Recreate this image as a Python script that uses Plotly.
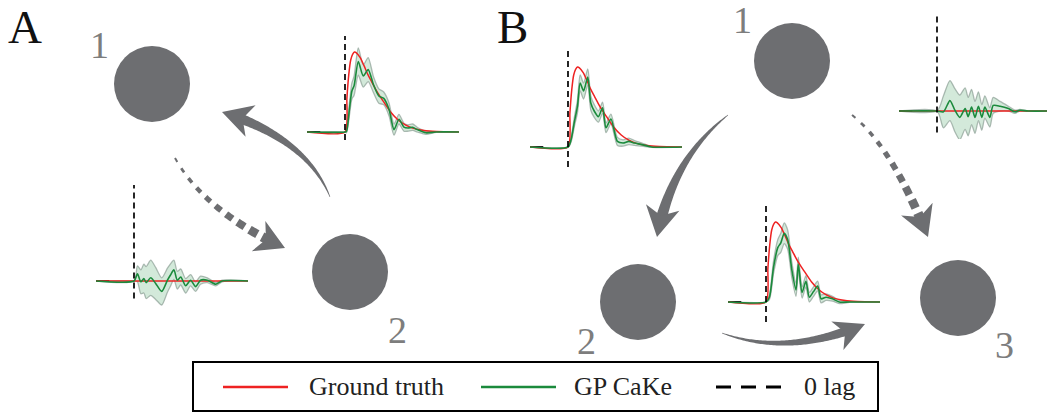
import numpy as np
import plotly.graph_objects as go

W, H = 1047, 414

# ------------------------------------------------------------------ data
# ground-truth causal kernel (normalised amplitude vs. lag)
truth_lag = [-1, 0, 0.05, 0.1, 0.15, 0.2, 0.25, 0.3, 0.4, 0.5, 0.6, 0.7, 0.8, 0.9, 1.0,
             1.2, 1.4, 1.6, 1.8, 2.0, 2.3, 2.6, 3.0]
truth_kernel = [0, 0, 0.42, 0.72, 0.9, 0.97, 1.0, 0.99, 0.93, 0.83, 0.72, 0.63, 0.54, 0.46, 0.39,
                0.25, 0.15, 0.085, 0.045, 0.025, 0.01, 0.004, 0]
null_lag = [-1, 3]
null_kernel = [0, 0]

# GP CaKe estimates: mean and posterior half-width, per connection
a21_lag = [-1, 0, 0.04, 0.12, 0.18, 0.24, 0.35, 0.48, 0.61, 0.75, 0.89, 1.02, 1.16, 1.29, 1.42,
           1.55, 1.66, 1.78, 1.9, 2.13, 2.4, 3]
a21_mean = [0, 0, 0.01, 0.3, 0.51, 0.58, 0.88, 0.70, 0.78, 0.59, 0.45, 0.42, 0.28, 0.03, 0.16,
            0.06, 0.05, 0.06, 0.03, -0.01, 0, 0]
a21_sd = [0, 0, 0.02, 0.08, 0.1, 0.12, 0.17, 0.14, 0.15, 0.1, 0.09, 0.08, 0.08, 0.07, 0.06,
          0.05, 0.04, 0.04, 0.03, 0.02, 0.005, 0]

a12_lag = [-1, 0, 0.09, 0.18, 0.26, 0.32, 0.44, 0.57, 0.73, 0.88, 0.96, 1.05, 1.14, 1.23, 1.36,
           1.49, 1.62, 1.75, 1.93, 2.15, 2.32, 3]
a12_mean = [0, 0, 0.09, -0.01, 0.03, -0.02, 0.04, -0.03, -0.13, 0.01, 0.075, 0.14, 0.01, 0.05, -0.06,
            0.01, -0.07, 0.01, 0.01, -0.04, 0, 0]
a12_sd = [0, 0, 0.1, 0.15, 0.18, 0.2, 0.22, 0.2, 0.17, 0.15, 0.14, 0.12, 0.11, 0.1, 0.09,
          0.07, 0.06, 0.05, 0.03, 0.02, 0.01, 0]

b12_lag = [-1, 0, 0.08, 0.17, 0.25, 0.32, 0.41, 0.52, 0.6, 0.69, 0.8, 0.91, 1.0, 1.13, 1.3,
           1.45, 1.6, 1.75, 1.95, 2.2, 3]
b12_mean = [0, 0, 0.09, 0.32, 0.51, 0.8, 0.70, 0.875, 0.55, 0.45, 0.38, 0.49, 0.24, 0.35, 0.07,
            0.05, 0.07, 0.05, 0.03, 0, 0]
b12_sd = [0, 0, 0.03, 0.06, 0.08, 0.1, 0.1, 0.1, 0.09, 0.08, 0.07, 0.07, 0.06, 0.06, 0.05,
          0.04, 0.04, 0.03, 0.02, 0.005, 0]

b13_lag = [-1, 0, 0.17, 0.34, 0.47, 0.6, 0.74, 0.82, 0.91, 1.0, 1.09, 1.18, 1.26, 1.39, 1.48,
           1.66, 1.88, 2.05, 2.18, 2.4, 3]
b13_mean = [0, 0, -0.01, 0.13, 0.01, -0.08, 0.03, -0.07, 0.05, -0.08, 0.06, -0.08, 0.05, -0.08, 0.07,
            0.06, 0.03, -0.01, 0.01, 0, 0]
b13_sd = [0, 0, 0.2, 0.25, 0.27, 0.28, 0.26, 0.24, 0.22, 0.2, 0.18, 0.16, 0.14, 0.12, 0.1,
          0.06, 0.03, 0.02, 0.01, 0, 0]

b23_lag = [-1, 0, 0.09, 0.2, 0.31, 0.39, 0.48, 0.57, 0.68, 0.79, 0.85, 0.95, 1.05, 1.14, 1.25,
           1.36, 1.45, 1.58, 1.75, 1.93, 2.2, 3]
b23_mean = [0, 0, 0.06, 0.44, 0.68, 0.74, 0.86, 0.78, 0.4, 0.15, 0.47, 0.12, 0.26, 0.06, 0.13,
            0.2, 0.04, 0.06, 0.04, 0.0, 0, 0]
b23_sd = [0, 0, 0.03, 0.08, 0.1, 0.12, 0.13, 0.12, 0.1, 0.08, 0.09, 0.07, 0.07, 0.06, 0.06,
          0.06, 0.05, 0.04, 0.03, 0.02, 0.005, 0]

legend_labels = ["Ground truth", "GP CaKe", "0 lag"]
panel_labels = ["A", "B"]
node_labels = ["1", "2", "1", "2", "3"]

# ------------------------------------------------------------------ styles / layout geometry
RED = "#ee2222"
GREEN = "#1b8a3c"
NODE = "#6d6e71"
LABEL_GREY = "#7d7d7d"
SERIF = "Liberation Serif"

PX_PER_LAG = 38.0
PX_PER_AMP = 80.0
Y_LO, Y_HI = -0.35, 1.3
DASH_TOP = 1.2

# inset placement (pixel frame): left edge, baseline
insets = [
    dict(left=307, base=132, lag=a21_lag, mean=a21_mean, sd=a21_sd, truth=(truth_lag, truth_kernel), dlo=-0.1),
    dict(left=96, base=281, lag=a12_lag, mean=a12_mean, sd=a12_sd, truth=(null_lag, null_kernel), dlo=-0.22),
    dict(left=530, base=147, lag=b12_lag, mean=b12_mean, sd=b12_sd, truth=(truth_lag, truth_kernel), dlo=-0.25),
    dict(left=899, base=111, lag=b13_lag, mean=b13_mean, sd=b13_sd, truth=(null_lag, null_kernel), dlo=-0.27),
    dict(left=728, base=302, lag=b23_lag, mean=b23_mean, sd=b23_sd, truth=(truth_lag, truth_kernel), dlo=-0.25),
]

nodes = [  # centre, label position
    dict(c=(152, 84), lab=(99, 45)),
    dict(c=(350, 272), lab=(397, 330)),
    dict(c=(792, 61), lab=(742, 20)),
    dict(c=(638, 302), lab=(586, 341)),
    dict(c=(958, 298), lab=(1004, 345)),
]
R = 38

arrows = [  # p0, control, tip, shaft end width, head length, head width, dashed
    dict(p0=(330, 197), c=(307, 139), tip=(222, 112), w=10, L=30, hw=33, dashed=False),
    dict(p0=(175, 158), c=(205, 212), tip=(285, 248), w=10, L=29, hw=33, dashed=True),
    dict(p0=(728, 115), c=(672, 159), tip=(657, 237), w=11, L=30, hw=34, dashed=False),
    dict(p0=(852, 115), c=(892, 147), tip=(928, 237), w=10, L=30, hw=34, dashed=True),
    dict(p0=(722, 333), c=(787, 357), tip=(865, 324), w=9, L=30, hw=31, dashed=False),
]


def fmt(poly):
    return "M " + " L ".join(f"{x:.2f},{y:.2f}" for x, y in poly) + " Z"


def strip(xs, ys, widths):
    pts = np.stack([xs, ys], axis=1)
    d = np.gradient(pts, axis=0)
    d /= np.linalg.norm(d, axis=1)[:, None]
    n = np.stack([-d[:, 1], d[:, 0]], axis=1)
    left = pts + n * widths[:, None] / 2
    right = pts - n * widths[:, None] / 2
    return fmt(np.vstack([left, right[::-1]]))


def arrow_paths(a):
    p0, c, p2 = (np.asarray(v, float) for v in (a["p0"], a["c"], a["tip"]))
    t = np.linspace(0, 1, 200)[:, None]
    pts = (1 - t) ** 2 * p0 + 2 * (1 - t) * t * c + t ** 2 * p2
    seg = np.linalg.norm(np.diff(pts, axis=0), axis=1)
    s = np.concatenate([[0], np.cumsum(seg)])
    s_end = s[-1] - 0.7 * a["L"]
    paths = []
    if not a["dashed"]:
        ss = np.linspace(0, s_end, 80)
        xs = np.interp(ss, s, pts[:, 0]); ys = np.interp(ss, s, pts[:, 1])
        wd = 0.6 + (a["w"] - 0.6) * (ss / s_end) ** 0.9
        paths.append(strip(xs, ys, wd))
    else:
        pos = 0.0
        sub = []
        while pos < s_end - 1:
            f = pos / s_end
            dash = 4.5 + 5.5 * f
            gap = 7.5 - 2.5 * f
            e = min(pos + dash, s_end)
            ss = np.linspace(pos, e, 6)
            xs = np.interp(ss, s, pts[:, 0]); ys = np.interp(ss, s, pts[:, 1])
            wd = np.full(6, 2.0 + (a["w"] - 2.0) * f)
            sub.append(strip(xs, ys, wd))
            pos = e + gap
        paths.append(" ".join(sub))
    d = p2 - c
    d /= np.linalg.norm(d)
    n = np.array([-d[1], d[0]])
    back = p2 - a["L"] * d
    b1 = back + n * a["hw"] / 2
    b2 = back - n * a["hw"] / 2
    notch = p2 - 0.72 * a["L"] * d
    paths.append(fmt([p2, b1, notch, b2]))
    return paths


# ------------------------------------------------------------------ figure
fig = go.Figure()
fig.add_trace(go.Scatter(x=[None], y=[None], xaxis="x", yaxis="y", showlegend=False, hoverinfo="skip"))

layout = dict(
    width=W, height=H, autosize=False, margin=dict(l=0, r=0, t=0, b=0, pad=0),
    paper_bgcolor="white", plot_bgcolor="rgba(0,0,0,0)", showlegend=False,
    font=dict(family=SERIF),
    xaxis=dict(range=[0, W], domain=[0, 1], visible=False, fixedrange=True),
    yaxis=dict(range=[H, 0], domain=[0, 1], visible=False, fixedrange=True),
)

for i, ins in enumerate(insets, start=2):
    xa, ya = f"x{i}", f"y{i}"
    left = ins["left"]
    right = min(left + 4 * PX_PER_LAG, W)
    xmax = -1 + (right - left) / PX_PER_LAG
    top_px = ins["base"] - Y_HI * PX_PER_AMP
    bot_px = ins["base"] - Y_LO * PX_PER_AMP
    layout[f"xaxis{i}"] = dict(domain=[left / W, right / W], range=[-1, xmax], visible=False,
                               anchor=ya, fixedrange=True)
    layout[f"yaxis{i}"] = dict(domain=[1 - bot_px / H, 1 - top_px / H], range=[Y_LO, Y_HI],
                               visible=False, anchor=xa, fixedrange=True)
    lag = np.asarray(ins["lag"]); m = np.asarray(ins["mean"]); sd = np.asarray(ins["sd"])
    up, lo = m + sd, m - sd
    fig.add_trace(go.Scatter(x=np.concatenate([lag, lag[::-1]]), y=np.concatenate([up, lo[::-1]]),
                             xaxis=xa, yaxis=ya, fill="toself", mode="lines",
                             fillcolor="rgba(70,165,100,0.24)",
                             line=dict(color="rgba(125,145,135,0.6)", width=1.3, shape="spline", smoothing=0.7),
                             hoverinfo="skip"))
    fig.add_trace(go.Scatter(x=[-1, -0.65], y=[0, 0], xaxis=xa, yaxis=ya, mode="lines",
                             line=dict(color="#222", width=2.0), hoverinfo="skip"))
    tl, tk = ins["truth"]
    tl = [v for v in tl if v <= xmax] + ([xmax] if tl[-1] > xmax else [])
    tk = list(tk[:len(tl)])
    fig.add_trace(go.Scatter(x=tl, y=tk, xaxis=xa, yaxis=ya, mode="lines",
                             line=dict(color=RED, width=1.5, shape="spline", smoothing=0.6)))
    fig.add_trace(go.Scatter(x=lag, y=m, xaxis=xa, yaxis=ya, mode="lines",
                             line=dict(color=GREEN, width=1.6, shape="spline", smoothing=0.7)))
    fig.add_trace(go.Scatter(x=[0, 0], y=[ins["dlo"], DASH_TOP], xaxis=xa, yaxis=ya, mode="lines",
                             line=dict(color="black", width=1.7, dash="6px,4px")))

shapes = []
for nd in nodes:
    cx, cy = nd["c"]
    shapes.append(dict(type="circle", xref="x", yref="y", x0=cx - R, x1=cx + R, y0=cy - R, y1=cy + R,
                       fillcolor=NODE, line=dict(width=0), layer="above"))
for a in arrows:
    for p in arrow_paths(a):
        shapes.append(dict(type="path", xref="x", yref="y", path=p, fillcolor=NODE,
                           line=dict(width=0), layer="above"))

# legend box
shapes.append(dict(type="rect", xref="x", yref="y", x0=193, x1=878, y0=362, y1=411,
                   line=dict(color="black", width=2), fillcolor="rgba(0,0,0,0)"))
shapes.append(dict(type="line", xref="x", yref="y", x0=223, x1=288, y0=387, y1=387,
                   line=dict(color=RED, width=2.5)))
shapes.append(dict(type="line", xref="x", yref="y", x0=481, x1=556, y0=387, y1=387,
                   line=dict(color=GREEN, width=2.5)))
shapes.append(dict(type="line", xref="x", yref="y", x0=716, x1=783, y0=387, y1=387,
                   line=dict(color="black", width=3, dash="15px,10px")))
layout["shapes"] = shapes

ann = []
for txt, x in zip(legend_labels, [307, 572, 802]):
    ann.append(dict(x=x, y=386, xref="x", yref="y", text=txt, showarrow=False, xanchor="left",
                    yanchor="middle", font=dict(family=SERIF, size=26, color="#222")))
for txt, x in zip(panel_labels, [25, 512]):
    ann.append(dict(x=x, y=0, xref="x", yref="y", text=txt, showarrow=False, xanchor="center",
                    yanchor="top", borderpad=0, font=dict(family=SERIF, size=47, color="#111")))
for txt, nd in zip(node_labels, nodes):
    x, y = nd["lab"]
    ann.append(dict(x=x, y=y, xref="x", yref="y", text=txt, showarrow=False, xanchor="center",
                    yanchor="middle", font=dict(family=SERIF, size=38, color=LABEL_GREY)))
layout["annotations"] = ann

fig.update_layout(**layout)
fig.write_html("out.html", config={"displayModeBar": False})
